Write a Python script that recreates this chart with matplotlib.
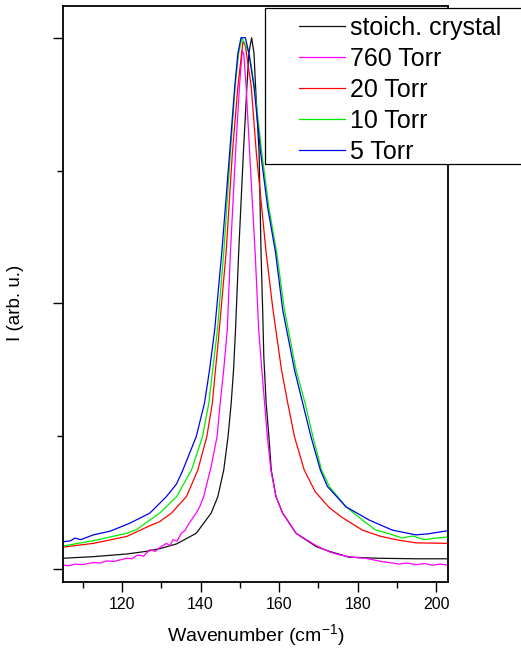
"""Normalised Raman spectra of the soft mode for different growth pressures."""

import matplotlib.pyplot as plt
from matplotlib.patches import Rectangle
from matplotlib.ticker import MultipleLocator, NullFormatter

plt.rcParams["font.family"] = ["Liberation Sans", "DejaVu Sans"]
plt.rcParams["mathtext.fontset"] = "custom"
plt.rcParams["mathtext.rm"] = "Liberation Sans"

labels = ["stoich. crystal", "760 Torr", "20 Torr", "10 Torr", "5 Torr"]
colors = ["#111111", "#ff00ff", "#ff0000", "#00ee00", "#0000ee"]

# wavenumber (cm^-1) / normalised intensity, one pair per sample
crystal_x = [105.0, 112.7, 121.2, 126.2, 129.6, 133.9, 138.9, 142.7, 144.4, 145.9,
             147.0, 147.8, 148.4, 148.9, 149.7, 150.9, 151.8, 152.3, 153.0, 153.6,
             154.0, 154.9, 155.4, 155.8, 156.1, 156.7, 157.4, 158.0, 159.2, 160.9,
             164.3, 169.4, 172.8, 177.8, 185.0, 195.0, 203.0]
crystal_y = [0.020, 0.023, 0.028, 0.033, 0.038, 0.047, 0.067, 0.105, 0.136, 0.186,
             0.249, 0.312, 0.375, 0.450, 0.595, 0.783, 0.908, 0.971, 1.000, 0.971,
             0.908, 0.783, 0.595, 0.490, 0.400, 0.312, 0.249, 0.186, 0.136, 0.105,
             0.067, 0.042, 0.033, 0.022, 0.020, 0.019, 0.019]

torr760_x = [105.0, 106.5, 108.0, 110.0, 112.7, 114.5, 116.0, 118.0, 121.2, 122.5,
             124.0, 125.5, 127.1, 128.5, 129.6, 131.3, 132.2, 133.0, 134.0, 135.1,
             136.0, 137.0, 138.9, 139.8, 140.8, 142.7, 144.2, 145.0, 145.9, 146.8,
             147.6, 148.9, 149.9, 150.6, 151.0, 151.6, 152.5, 153.9, 154.8, 155.6,
             156.3, 157.0, 157.9, 159.2, 160.9, 164.3, 169.4, 172.8, 175.0, 177.8,
             180.0, 182.0, 184.0, 186.0, 188.0, 190.5, 192.5, 195.0, 197.0, 199.0,
             201.0, 203.0]
torr760_y = [0.007, 0.006, 0.009, 0.008, 0.012, 0.011, 0.015, 0.014, 0.020, 0.019,
             0.026, 0.024, 0.036, 0.033, 0.040, 0.048, 0.044, 0.055, 0.052, 0.067,
             0.072, 0.085, 0.105, 0.117, 0.136, 0.193, 0.249, 0.312, 0.375, 0.450,
             0.595, 0.783, 0.908, 0.975, 0.970, 0.908, 0.783, 0.595, 0.450, 0.375,
             0.312, 0.249, 0.186, 0.136, 0.105, 0.067, 0.044, 0.032, 0.027, 0.023,
             0.021, 0.020, 0.017, 0.014, 0.012, 0.009, 0.011, 0.008, 0.010, 0.007,
             0.009, 0.007]

torr20_x = [105.0, 112.7, 121.2, 126.7, 129.6, 132.6, 136.4, 139.3, 141.6, 143.0,
            143.8, 144.4, 146.5, 148.1, 149.5, 150.8, 151.4, 152.9, 154.2, 156.7,
            158.4, 160.6, 162.2, 163.9, 166.4, 169.2, 172.8, 176.0, 181.2, 185.5,
            189.7, 194.8, 203.0]
torr20_y = [0.041, 0.048, 0.061, 0.080, 0.089, 0.105, 0.136, 0.186, 0.249, 0.312,
            0.375, 0.420, 0.595, 0.783, 0.908, 0.993, 0.985, 0.908, 0.783, 0.595,
            0.490, 0.375, 0.312, 0.249, 0.186, 0.145, 0.115, 0.097, 0.073, 0.062,
            0.055, 0.049, 0.048]

torr10_x = [105.0, 112.7, 121.2, 123.7, 129.6, 133.9, 137.7, 140.5, 142.1, 143.1,
            144.3, 145.9, 147.6, 148.8, 149.7, 150.5, 151.2, 152.4, 153.7, 155.6,
            157.4, 159.4, 161.3, 164.3, 166.6, 168.6, 170.8, 172.8, 177.0, 181.2,
            184.6, 188.0, 191.4, 194.0, 197.0, 200.0, 203.0]
torr10_y = [0.043, 0.053, 0.067, 0.074, 0.105, 0.136, 0.186, 0.249, 0.312, 0.375,
            0.450, 0.595, 0.783, 0.908, 0.970, 1.000, 0.990, 0.970, 0.908, 0.783,
            0.680, 0.595, 0.490, 0.375, 0.312, 0.249, 0.186, 0.155, 0.117, 0.092,
            0.073, 0.066, 0.058, 0.062, 0.055, 0.058, 0.060]

torr5_x = [105.0, 107.0, 108.0, 109.5, 112.7, 117.0, 122.0, 127.1, 131.3, 133.9,
           135.5, 138.9, 141.0, 142.3, 143.6, 145.4, 147.4, 148.7, 149.5, 150.3,
           151.4, 152.3, 153.6, 155.3, 157.1, 159.1, 160.9, 163.9, 166.0, 168.1,
           170.5, 172.3, 177.0, 182.9, 188.8, 194.8, 198.0, 203.0]
torr5_y = [0.051, 0.053, 0.058, 0.055, 0.064, 0.071, 0.086, 0.105, 0.136, 0.160,
           0.186, 0.249, 0.312, 0.375, 0.450, 0.595, 0.783, 0.908, 0.970, 1.000,
           1.000, 0.971, 0.908, 0.783, 0.680, 0.595, 0.488, 0.375, 0.312, 0.249,
           0.186, 0.155, 0.117, 0.092, 0.073, 0.064, 0.066, 0.072]

series = [(crystal_x, crystal_y), (torr760_x, torr760_y), (torr20_x, torr20_y),
          (torr10_x, torr10_y), (torr5_x, torr5_y)]

fig = plt.figure(figsize=(5.21, 6.49), dpi=100)
ax = fig.add_axes([0.121, 0.103, 0.739, 0.888])

handles = []
for (x, y), color, label in zip(series, colors, labels):
    (line,) = ax.plot(x, y, color=color, lw=0.9, label=label)
    handles.append(line)

ax.set_xlim(105, 203)
ax.set_ylim(-0.025, 1.06)
ax.xaxis.set_major_locator(MultipleLocator(20))
ax.xaxis.set_minor_locator(MultipleLocator(10))
ax.yaxis.set_major_locator(MultipleLocator(0.5))
ax.yaxis.set_minor_locator(MultipleLocator(0.25))
ax.yaxis.set_major_formatter(NullFormatter())
ax.tick_params(which="major", direction="out", length=7, width=1.0, labelsize=11.5, pad=4)
ax.tick_params(which="minor", direction="out", length=4, width=1.0)
for spine in ax.spines.values():
    spine.set_linewidth(1.3)

ax.set_xlabel("Wavenumber (cm$^{-1}$)", fontsize=14, labelpad=7)
ax.set_ylabel("I (arb. u.)", fontsize=13.5)
ax.yaxis.set_label_coords(-0.101, 0.484)

# legend box runs past the right edge of the figure
fig.add_artist(Rectangle((265 / 521, 1 - 164 / 649), 0.6, 156 / 649,
                         transform=fig.transFigure, facecolor="white",
                         edgecolor="black", lw=0.9, zorder=5))
leg = fig.legend(handles=handles, loc="upper left",
                 bbox_to_anchor=(299 / 521, 1 - 16 / 649),
                 frameon=False, fontsize=18, handlelength=1.84,
                 handletextpad=0.2, labelspacing=0.28, borderpad=0,
                 borderaxespad=0)
leg.set_zorder(6)

fig.savefig("out.png", dpi=100)
